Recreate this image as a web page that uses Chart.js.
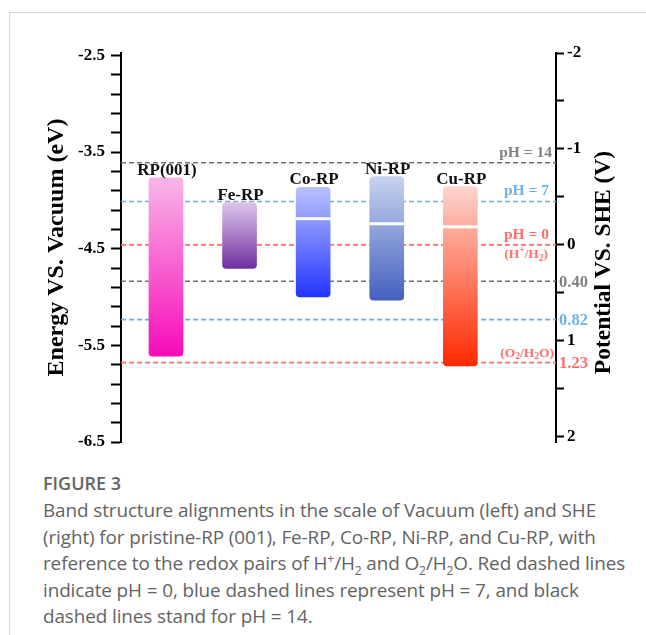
<!DOCTYPE html>
<html>
<head>
<meta charset="utf-8">
<script src="https://cdn.jsdelivr.net/npm/chart.js@4.4.1/dist/chart.umd.min.js"></script>
<style>
  html, body { margin: 0; padding: 0; background: #fff; }
  body { width: 646px; height: 635px; position: relative; overflow: hidden; }
  #frame { position: absolute; left: 9px; top: 12px; width: 640px; height: 630px;
           border-top: 1px solid #d4d4d4; border-left: 1px solid #d4d4d4; }
  #wrap { position: absolute; left: 0; top: 0; width: 646px; height: 460px; }
  #caption { position: absolute; left: 43px; top: 471px; color: #636363;
             font-family: "Open Sans", sans-serif; font-size: 18.9px; line-height: 26.5px; letter-spacing: -0.1px; }
  #caption .fig { font-weight: 600; font-size: 18px; line-height: 24px; margin-bottom: 2px; letter-spacing: 0; }
  #caption sub, #caption sup { font-size: 12px; line-height: 0; }
</style>
</head>
<body>
<div id="frame"></div>
<div id="wrap"><canvas id="c" width="646" height="460"></canvas></div>
<div id="caption">
  <div class="fig">FIGURE 3</div>
  <div>Band structure alignments in the scale of Vacuum (left) and SHE</div>
  <div>(right) for pristine-RP (001), Fe-RP, Co-RP, Ni-RP, and Cu-RP, with</div>
  <div>reference to the redox pairs of H<sup>+</sup>/H<sub>2</sub> and O<sub>2</sub>/H<sub>2</sub>O. Red dashed lines</div>
  <div>indicate pH = 0, blue dashed lines represent pH = 7, and black</div>
  <div>dashed lines stand for pH = 14.</div>
</div>
<script>
// band edges vs vacuum (eV)
const samples   = ['RP(001)', 'Fe-RP', 'Co-RP', 'Ni-RP', 'Cu-RP'];
const samplePos = [1, 2, 3, 4, 5];
const bandTop    = [-3.767, -4.023, -3.864, -3.754, -3.857];
const bandBottom = [-5.612, -4.703, -5.000, -5.032, -5.712];
const bandSplit  = [null, null, -4.189, -4.241, -4.272];

// redox reference levels (eV vs vacuum)
const levelValues = [-3.611, -4.011, -4.460, -4.837, -5.234, -5.679];
const levelKinds  = ['gray', 'blue', 'red', 'gray', 'blue', 'red'];
const levelTags   = ['pH = 14', 'pH = 7', 'pH = 0', '0.40', '0.82', '1.23'];

const vacTicks  = [-2.5, -2.7, -2.9, -3.1, -3.3, -3.5, -3.7, -3.9, -4.1, -4.3, -4.5,
                   -4.7, -4.9, -5.1, -5.3, -5.5, -5.7, -5.9, -6.1, -6.3, -6.5];
const vacLabels = [-2.5, -3.5, -4.5, -5.5, -6.5];
const sheTicks  = [-2, -1.5, -1, -0.5, 0, 0.5, 1, 1.5, 2];
const sheLabels = [-2, -1, 0, 1, 2];

const X_MIN = 0.389, X_MAX = 6.30;
const SERIF = '"Liberation Serif", "Times New Roman", serif';
const lineColor = { gray: '#747474', blue: '#6cafe2', red: '#ff6a6a' };
const textColor = { gray: '#808080', blue: '#70b2e4', red: '#ff6e6e' };
const gradTop    = ['#f8b6e7', '#ddc5eb', '#bac2fe', '#c7d3ef', '#fcd4cd'];
const gradBottom = ['#f70bb9', '#702fa0', '#2434ff', '#4360c0', '#ff2900'];

const isIn = (v, list) => list.some(l => Math.abs(l - v) < 1e-6);

function bandGradient(c) {
  const chart = c.chart;
  if (!chart.chartArea || c.dataIndex == null) return 'transparent';
  const y = chart.scales.y, i = c.dataIndex;
  const g = chart.ctx.createLinearGradient(0, y.getPixelForValue(bandTop[i]), 0, y.getPixelForValue(bandBottom[i]));
  g.addColorStop(0, gradTop[i]);
  g.addColorStop(1, gradBottom[i]);
  return g;
}

// draw text made of plain/sup/sub pieces, right aligned at x
function richText(ctx, parts, x, y, size, color) {
  const fnt = s => `bold ${s}px ${SERIF}`;
  let w = 0;
  parts.forEach(([t, k]) => { ctx.font = fnt(k ? size * 0.7 : size); w += ctx.measureText(t).width; });
  let cx = x - w;
  ctx.fillStyle = color;
  ctx.textAlign = 'left';
  ctx.textBaseline = 'middle';
  parts.forEach(([t, k]) => {
    const s = k ? size * 0.7 : size;
    ctx.font = fnt(s);
    const dy = k === 'sup' ? -size * 0.3 : k === 'sub' ? size * 0.25 : 0;
    ctx.fillText(t, cx, y + dy);
    cx += ctx.measureText(t).width;
  });
}

const labelsPlugin = {
  id: 'bandLabels',
  afterDatasetsDraw(chart) {
    const { ctx, chartArea, scales } = chart;
    const y = scales.y;
    ctx.save();

    // sample names above the bands
    ctx.font = `bold 17px ${SERIF}`;
    ctx.fillStyle = '#111';
    ctx.textAlign = 'center';
    ctx.textBaseline = 'alphabetic';
    chart.getDatasetMeta(6).data.forEach((el, i) => {
      ctx.fillText(samples[i], el.x + 1, Math.min(el.y, el.base) - 3);
    });

    // reference level tags
    levelValues.forEach((v, i) => {
      const py = y.getPixelForValue(v);
      ctx.fillStyle = textColor[levelKinds[i]];
      if (i < 3) {
        ctx.font = `bold 15.5px ${SERIF}`;
        ctx.textAlign = 'right';
        ctx.textBaseline = 'middle';
        ctx.fillText(levelTags[i], chartArea.right - (i === 0 ? 4 : 7), py - 10);
      } else {
        ctx.font = `bold 16.5px ${SERIF}`;
        ctx.textAlign = 'left';
        ctx.textBaseline = 'middle';
        ctx.fillText(levelTags[i], chartArea.right + 3, py + 1);
      }
    });
    richText(ctx, [['(H', ''], ['+', 'sup'], ['/H', ''], ['2', 'sub'], [')', '']],
      chartArea.right - 8, y.getPixelForValue(levelValues[2]) + 10, 13.5, textColor.red);
    richText(ctx, [['(O', ''], ['2', 'sub'], ['/H', ''], ['2', 'sub'], ['O)', '']],
      chartArea.right - 2, y.getPixelForValue(levelValues[5]) - 9, 13.5, textColor.red);

    // right axis title, reading upward
    ctx.save();
    ctx.translate(chartArea.right + 48, (chartArea.top + chartArea.bottom) / 2 + 15);
    ctx.rotate(-Math.PI / 2);
    ctx.font = `bold 23.5px ${SERIF}`;
    ctx.fillStyle = '#000';
    ctx.textAlign = 'center';
    ctx.textBaseline = 'middle';
    ctx.fillText('Potential VS. SHE (V)', 0, 0);
    ctx.restore();

    ctx.restore();
  }
};

const levelSets = levelValues.map((v, i) => ({
  type: 'line',
  data: [{ x: X_MIN, y: v }, { x: X_MAX, y: v }],
  borderColor: lineColor[levelKinds[i]],
  borderWidth: 1.6,
  borderDash: [5, 3],
  pointRadius: 0,
  order: 3,
  yAxisID: 'y',
}));

const bandSet = {
  type: 'bar',
  data: samplePos.map((x, i) => ({ x, y: [bandBottom[i], bandTop[i]] })),
  backgroundColor: bandGradient,
  borderWidth: 0,
  borderRadius: 4,
  borderSkipped: false,
  barThickness: 34,
  grouped: false,
  order: 1,
  yAxisID: 'y',
};

const splitSet = {
  type: 'bar',
  data: samplePos.map((x, i) => ({ x, y: bandSplit[i] == null ? null : [bandSplit[i] - 0.012, bandSplit[i] + 0.012] })),
  backgroundColor: '#ffffff',
  borderWidth: 0,
  barThickness: 34,
  grouped: false,
  order: 0,
  yAxisID: 'y',
};

new Chart(document.getElementById('c'), {
  type: 'bar',
  data: { datasets: [...levelSets, bandSet, splitSet] },
  options: {
    responsive: false,
    animation: false,
    events: [],
    layout: { padding: { left: 0, right: 0, top: 53, bottom: 18 } },
    plugins: { legend: { display: false }, tooltip: { enabled: false } },
    scales: {
      x: { type: 'linear', min: X_MIN, max: X_MAX, offset: false, display: false },
      y: {
        position: 'left',
        min: -6.5, max: -2.475,
        afterBuildTicks: s => { s.ticks = vacTicks.map(v => ({ value: v })); },
        afterFit: s => { s.width = 121; },
        border: { display: true, color: '#000', width: 2 },
        grid: { drawOnChartArea: false, drawTicks: true, tickLength: 10, tickWidth: 2, tickColor: '#000' },
        ticks: {
          autoSkip: false, padding: 6, color: '#000',
          font: { family: SERIF, size: 17, weight: 'bold' },
          callback: v => isIn(v, vacLabels) ? v.toFixed(1) : '',
        },
        title: {
          display: true, text: 'Energy VS. Vacuum (eV)', color: '#000',
          font: { family: SERIF, size: 24, weight: 'bold' },
          padding: { top: 42, bottom: 0 },
        },
      },
      y2: {
        position: 'right',
        reverse: true,
        min: -2, max: 2.06,
        afterBuildTicks: s => { s.ticks = sheTicks.map(v => ({ value: v })); },
        afterFit: s => { s.width = 90; },
        border: { display: true, color: '#000', width: 2 },
        grid: { drawOnChartArea: false, drawTicks: true, tickLength: 8, tickWidth: 2, tickColor: '#000' },
        ticks: {
          autoSkip: false, padding: 3, color: '#000',
          font: { family: SERIF, size: 17, weight: 'bold' },
          callback: v => isIn(v, sheLabels) ? String(v) : '',
        },
      },
    },
  },
  plugins: [labelsPlugin],
});
</script>
</body>
</html>
